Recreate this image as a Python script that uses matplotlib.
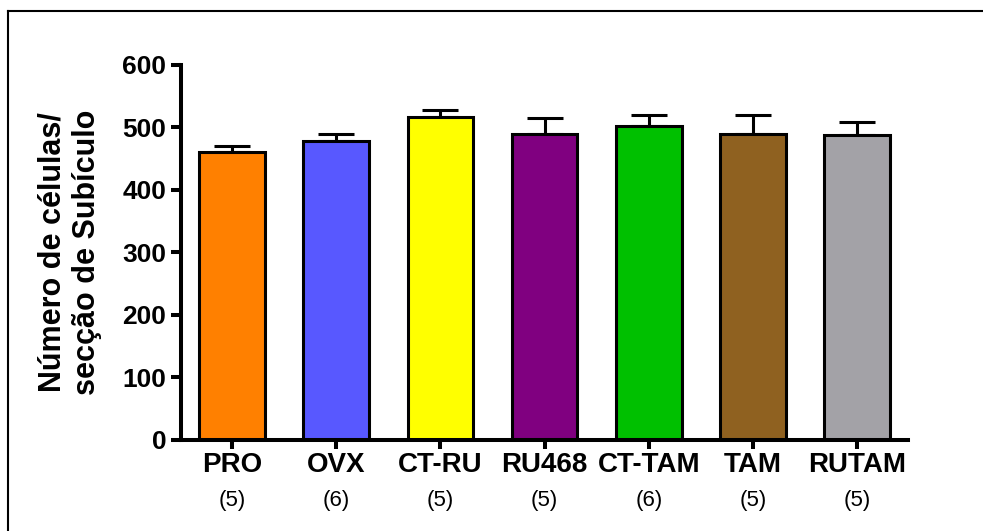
import matplotlib.pyplot as plt
from matplotlib.lines import Line2D
import numpy as np

# --- data ---
groups = ["PRO", "OVX", "CT-RU", "RU468", "CT-TAM", "TAM", "RUTAM"]
n_animals = ["(5)", "(6)", "(5)", "(5)", "(6)", "(5)", "(5)"]
means = [461, 478, 516, 490, 502, 490, 488]
sem = [10, 12, 12, 25, 18, 30, 20]
colors = ["#FF8000", "#5858FF", "#FFFF00", "#800080", "#00C000", "#8F6120", "#A3A2A7"]

plt.rcParams['font.family'] = ['Liberation Sans', 'DejaVu Sans']

fig = plt.figure(figsize=(9.83, 5.31), dpi=100)
ax = fig.add_axes([0.184, 0.1723, 0.740, 0.7053])

x = np.arange(len(groups))
lw = 2.2

ax.errorbar(x, means, yerr=[np.zeros(len(sem)), sem], fmt="none", ecolor="black",
            elinewidth=lw, capsize=13, capthick=lw, zorder=1)
ax.bar(x, means, width=0.63, color=colors, edgecolor="black", linewidth=lw, zorder=2)

ax.set_xlim(-0.49, 6.49)
ax.set_ylim(0, 600)
ax.set_yticks([0, 100, 200, 300, 400, 500, 600])
ax.set_xticks(x)
ax.set_xticklabels(groups, fontsize=20, fontweight="bold")
for lab in ax.get_yticklabels():
    lab.set_fontsize(19)
    lab.set_fontweight("bold")

for side in ["top", "right"]:
    ax.spines[side].set_visible(False)
for side in ["left", "bottom"]:
    ax.spines[side].set_linewidth(2.9)

ax.tick_params(axis="y", length=7.5, width=2.9, pad=3)
ax.tick_params(axis="x", length=6.5, width=2.9, pad=2.5)

# group sizes under the tick labels
for xi, n in zip(x, n_animals):
    ax.text(xi, -0.1616, n, transform=ax.get_xaxis_transform(),
            ha="center", va="center", fontsize=16)

fig.text(70 / 983, 1 - 252 / 531, "Número de células/\nsecção de Subículo",
         rotation=90, ha="center", va="center", multialignment="center",
         fontsize=22, fontweight="bold")

# frame around the figure (only top and left edges visible)
fig.add_artist(Line2D([8 / 983, 1.0], [1 - 11 / 531, 1 - 11 / 531],
                      transform=fig.transFigure, color="black", linewidth=1.5))
fig.add_artist(Line2D([8 / 983, 8 / 983], [1 - 11 / 531, 0.0],
                      transform=fig.transFigure, color="black", linewidth=1.5))

fig.savefig("out.png", dpi=100)
